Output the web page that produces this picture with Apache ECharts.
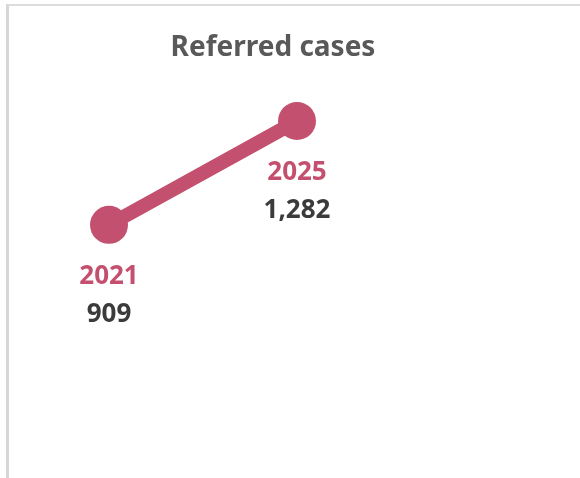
<!DOCTYPE html>
<html>
<head>
<meta charset="utf-8">
<script src="https://cdn.jsdelivr.net/npm/echarts@6/dist/echarts.min.js"></script>
<style>
  html, body { margin: 0; padding: 0; background: #fff; }
  #frame { position: absolute; left: 6px; top: 4px; width: 574px; height: 474px;
           border-top: 2px solid #dcdcdc; border-left: 3px solid #d6d6d6; box-sizing: border-box; }
  #chart { position: absolute; left: 0; top: 0; width: 580px; height: 478px; }
</style>
</head>
<body>
<div id="frame"></div>
<div id="chart"></div>
<script>
// data
var years = ['2021', '2025'];
var cases = [909, 1282];

var PINK = '#c4506f';
var chart = echarts.init(document.getElementById('chart'));

chart.setOption({
  animation: false,
  title: {
    text: 'Referred cases',
    left: 268,
    textAlign: 'center',
    top: 29,
    textStyle: { fontFamily: 'Noto Sans', fontWeight: 'bold', fontSize: 28, color: '#595959' }
  },
  grid: { left: 109, right: 283, top: 121, bottom: 0 },
  xAxis: { type: 'category', data: years, boundaryGap: false, show: false },
  yAxis: { type: 'value', min: 0, max: 'dataMax', show: false },
  series: [{
    type: 'line',
    data: cases,
    symbol: 'circle',
    symbolSize: 38,
    lineStyle: { width: 14, color: PINK },
    itemStyle: { color: PINK },
    label: {
      show: true,
      position: 'bottom',
      distance: 14,
      formatter: function (p) {
        return '{y|' + years[p.dataIndex] + '}\n{v|' + p.value.toLocaleString('en-US') + '}';
      },
      rich: {
        y: { fontFamily: 'Noto Sans', fontWeight: 'bold', fontSize: 26, lineHeight: 38, color: PINK, align: 'center' },
        v: { fontFamily: 'Noto Sans', fontWeight: 'bold', fontSize: 26, lineHeight: 38, color: '#3b3b3b', align: 'center' }
      }
    }
  }]
});
</script>
</body>
</html>
